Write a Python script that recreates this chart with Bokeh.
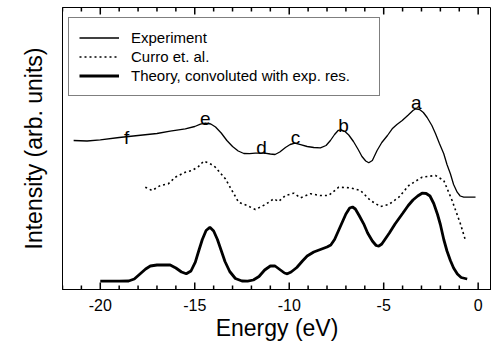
from bokeh.plotting import figure
from bokeh.models import (Range1d, LinearAxis, FixedTicker, Legend,
                          LegendItem, ColumnDataSource, CustomJSTickFormatter)
from bokeh.core.properties import value
from bokeh.embed import file_html
from bokeh.resources import INLINE

# ---------------- data ----------------
exp_energy = [-21.41, -20.70, -20.00, -19.00, -18.00, -17.00, -16.30, -15.50, -15.00, -14.70,
              -14.44, -14.15, -13.90, -13.60, -13.30, -13.00, -12.70, -12.40, -12.10, -11.80,
              -11.30, -11.00, -10.75, -10.50, -10.20, -9.95, -9.70, -9.40, -9.05, -8.70,
              -8.35, -8.05, -7.82, -7.60, -7.40, -7.25, -7.05, -6.85, -6.60, -6.35,
              -6.15, -5.95, -5.79, -5.60, -5.35, -5.10, -4.80, -4.55, -4.30, -4.02,
              -3.70, -3.45, -3.30, -3.10, -2.90, -2.70, -2.45, -2.26, -2.05, -1.82,
              -1.65, -1.47, -1.30, -1.11, -0.95, -0.76, -0.14]
exp_int = [149.0, 148.5, 149.7, 152.0, 154.0, 156.0, 158.3, 160.7, 163.0, 165.3,
           166.3, 165.5, 162.5, 156.5, 149.0, 143.0, 138.5, 136.0, 135.8, 136.3,
           136.3, 135.5, 135.0, 137.5, 142.0, 145.0, 146.3, 144.8, 143.0, 142.0,
           141.7, 144.0, 149.0, 155.0, 159.2, 159.7, 158.0, 154.5, 148.0, 140.0,
           133.0, 128.5, 126.7, 129.0, 139.0, 147.0, 154.0, 160.7, 165.0, 169.0,
           174.5, 179.0, 180.7, 180.0, 177.0, 172.0, 164.0, 156.0, 146.0, 135.7,
           125.0, 115.7, 105.0, 97.3, 93.5, 92.3, 92.3]

curro_energy = [-17.62, -17.26, -16.82, -16.40, -16.03, -15.50, -15.14, -14.80, -14.53, -14.20,
                -13.91, -13.38, -13.03, -12.68, -12.23, -11.79, -11.26, -10.82, -10.56, -10.20,
                -9.76, -9.41, -8.88, -8.35, -7.91, -7.38, -6.76, -6.23, -5.70, -5.17,
                -4.73, -4.20, -3.67, -2.97, -2.26, -1.82, -1.38, -0.94, -0.67]
curro_int = [102.3, 99.0, 104.0, 105.7, 112.3, 117.3, 119.0, 123.0, 128.3, 126.0,
             122.3, 110.7, 99.0, 87.3, 84.0, 80.0, 85.0, 90.7, 88.0, 94.0,
             96.3, 91.7, 95.7, 94.0, 94.0, 102.3, 101.7, 99.0, 89.0, 83.0,
             85.0, 92.3, 104.0, 112.3, 114.0, 109.0, 89.0, 65.7, 49.0]

theo_energy = [-20.00, -19.00, -18.50, -18.20, -17.90, -17.60, -17.35, -17.00, -16.60, -16.30,
               -16.00, -15.70, -15.45, -15.20, -14.97, -14.80, -14.60, -14.40, -14.20, -14.00,
               -13.80, -13.60, -13.40, -13.15, -12.85, -12.50, -12.20, -11.90, -11.60, -11.30,
               -11.00, -10.75, -10.50, -10.25, -10.10, -9.90, -9.60, -9.30, -9.05, -8.70,
               -8.35, -8.00, -7.80, -7.60, -7.40, -7.20, -7.00, -6.80, -6.65, -6.50,
               -6.30, -6.06, -5.85, -5.60, -5.40, -5.26, -5.10, -4.90, -4.70, -4.40,
               -4.00, -3.70, -3.45, -3.20, -2.97, -2.75, -2.55, -2.35, -2.15, -2.00,
               -1.82, -1.65, -1.47, -1.30, -1.10, -0.90, -0.58]
theo_int = [8.3, 8.3, 8.5, 10.5, 15.5, 20.5, 23.5, 24.5, 24.5, 24.5,
            21.5, 17.5, 15.7, 18.5, 27.3, 38.0, 50.0, 59.0, 62.3, 58.5,
            50.0, 39.0, 28.0, 18.0, 11.0, 8.5, 8.3, 9.5, 13.0, 19.5,
            23.5, 23.5, 20.0, 16.5, 15.7, 17.5, 22.0, 28.5, 33.5, 37.5,
            40.0, 42.5, 44.5, 50.0, 58.5, 67.0, 75.5, 81.5, 82.5, 80.5,
            74.0, 65.7, 56.5, 48.5, 44.0, 43.3, 45.5, 51.0, 56.5, 65.5,
            76.0, 84.0, 89.5, 93.5, 96.3, 96.0, 93.5, 86.0, 75.0, 65.0,
            50.0, 38.5, 29.0, 21.5, 15.5, 12.0, 10.5]

peak_labels = ["a", "b", "c", "d", "e", "f"]
peak_energy = [-3.27, -7.13, -9.67, -11.47, -14.44, -18.61]
peak_label_y = [187.3, 164.0, 152.3, 142.3, 170.7, 152.3]

legend_labels = ["Experiment", "Curro et. al.", "Theory, convoluted with exp. res."]
major_ticks = [-20, -15, -10, -5, 0]
minor_ticks = [-22, -21, -19, -18, -17, -16, -14, -13, -12, -11, -9, -8, -7, -6, -4, -3, -2, -1]

FONT = "Liberation Sans"
Y_MIN, Y_MAX = 0, 282
MAJOR_LEN, MINOR_LEN = 7, 4   # in y data units (1 unit = 1 px)

p = figure(width=491, height=347, output_backend="svg", toolbar_location=None, title=None,
           x_range=Range1d(-22.0, 0.706), y_range=Range1d(Y_MIN, Y_MAX),
           min_border_left=62, min_border_right=0, min_border_top=7, min_border_bottom=58,
           x_axis_location=None, y_axis_location=None)
p.grid.visible = False
p.outline_line_color = "black"
p.outline_line_width = 1
p.background_fill_color = "white"
p.border_fill_color = "white"

xb = LinearAxis(ticker=FixedTicker(ticks=major_ticks, minor_ticks=minor_ticks),
                axis_label="Energy (eV)",
                formatter=CustomJSTickFormatter(code="return tick.toFixed(0);"))
xb.major_tick_in = 0
xb.major_tick_out = 0
xb.minor_tick_in = 0
xb.minor_tick_out = 0
xb.axis_line_color = "black"
xb.major_label_text_font = FONT
xb.major_label_text_font_size = "16px"
xb.major_label_text_color = "black"
xb.major_label_standoff = 9
xb.axis_label_text_font = FONT
xb.axis_label_text_font_size = "23px"
xb.axis_label_text_font_style = "normal"
xb.axis_label_text_color = "black"
xb.axis_label_standoff = 1
p.add_layout(xb, "below")

yl = LinearAxis(axis_label="Intensity (arb. units)", ticker=FixedTicker(ticks=[]))
yl.major_tick_in = 0
yl.major_tick_out = 0
yl.minor_tick_in = 0
yl.minor_tick_out = 0
yl.major_label_standoff = 0
yl.axis_label_text_font = FONT
yl.axis_label_text_font_size = "23px"
yl.axis_label_text_font_style = "normal"
yl.axis_label_text_color = "black"
yl.axis_label_standoff = 16
yl.axis_line_color = "black"
p.add_layout(yl, "left")

# inward tick marks on bottom and top edges of the frame
for ticks, ln in ((major_ticks, MAJOR_LEN), (minor_ticks, MINOR_LEN)):
    n = len(ticks)
    p.segment(x0=ticks, y0=[Y_MIN] * n, x1=ticks, y1=[Y_MIN + ln] * n,
              line_color="black", line_width=1.5)
    p.segment(x0=ticks, y0=[Y_MAX] * n, x1=ticks, y1=[Y_MAX - ln] * n,
              line_color="black", line_width=1.5)

r_exp = p.line(exp_energy, exp_int, line_color="black", line_width=1.3)
r_cur = p.line(curro_energy, curro_int, line_color="black", line_width=1.6, line_dash="2 3")
r_the = p.line(theo_energy, theo_int, line_color="black", line_width=2.8)

src = ColumnDataSource(dict(x=peak_energy, y=peak_label_y, t=peak_labels))
p.text(x="x", y="y", text="t", source=src, text_font=value(FONT), text_font_size="19px",
       text_align="center", text_baseline="alphabetic", text_color="black")

legend = Legend(items=[LegendItem(label=legend_labels[0], renderers=[r_exp]),
                       LegendItem(label=legend_labels[1], renderers=[r_cur]),
                       LegendItem(label=legend_labels[2], renderers=[r_the])],
                location=(6, 193))
legend.padding = 10
legend.margin = 0
legend.spacing = 0
legend.glyph_width = 40
legend.glyph_height = 19
legend.label_height = 19
legend.label_width = 238
legend.label_standoff = 12
legend.label_text_font = FONT
legend.label_text_font_size = "15px"
legend.label_text_color = "black"
legend.border_line_color = "black"
legend.border_line_width = 1
legend.background_fill_alpha = 1
p.add_layout(legend, "center")

open("out.html", "w").write(file_html(p, INLINE))
